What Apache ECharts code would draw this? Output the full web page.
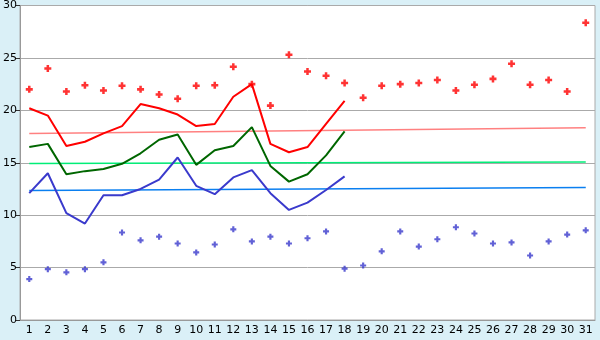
<!DOCTYPE html>
<html><head><meta charset="utf-8">
<script src="https://cdn.jsdelivr.net/npm/echarts@6/dist/echarts.min.js"></script>
<style>html,body{margin:0;padding:0;background:#daf0f7}#c{width:600px;height:340px}</style>
</head><body><div id="c"></div>
<script>
const days = Array.from({length:31},(_,i)=>String(i+1));
const redLine = [20.2,19.5,16.6,17.0,17.8,18.5,20.6,20.2,19.6,18.5,18.7,21.3,22.5,16.8,16.0,16.5,18.7,20.9];
const greenLine = [16.5,16.8,13.9,14.2,14.4,14.9,15.9,17.2,17.7,14.8,16.2,16.6,18.4,14.7,13.2,13.9,15.7,18.0];
const blueLine = [12.1,14.0,10.2,9.2,11.9,11.9,12.5,13.4,15.5,12.8,12.0,13.6,14.3,12.1,10.5,11.2,12.4,13.7];
const redPts = [22.0,24.0,21.8,22.4,21.9,22.35,22.0,21.5,21.1,22.35,22.4,24.15,22.5,20.45,25.3,23.7,23.3,22.6,21.2,22.35,22.5,22.6,22.9,21.9,22.45,23.0,24.45,22.45,22.9,21.8,28.35];
const bluePts = [3.9,4.85,4.55,4.85,5.5,8.35,7.6,7.95,7.3,6.45,7.2,8.65,7.5,7.95,7.3,7.8,8.45,4.9,5.2,6.55,8.45,7.0,7.7,8.85,8.25,7.3,7.4,6.15,7.5,8.15,8.55];
const redTrend = [17.78,18.35];
const greenTrend = [14.92,15.07];
const blueTrend = [12.35,12.64];
const yTicks = [0,5,10,15,20,25,30];

const plus = 'path://M1.6,0H3.4V1.6H5V3.4H3.4V5H1.6V3.4H0V1.6H1.6Z';
function trend(t){return [[days[0],t[0]],[days[days.length-1],t[1]]];}
const chart = echarts.init(document.getElementById('c'));
chart.setOption({
  backgroundColor:'#daf0f7',
  animation:false,
  grid:{left:20,right:5,top:5,bottom:20,show:true,backgroundColor:'#fff',borderColor:'#aaa',borderWidth:1},
  xAxis:{type:'category',data:days,boundaryGap:true,
    axisLine:{lineStyle:{color:'#999'}},
    axisTick:{alignWithLabel:true,length:4,lineStyle:{color:'#333'}},
    axisLabel:{color:'#000',fontFamily:'DejaVu Sans',fontSize:11,margin:5,interval:0},
    splitLine:{show:false}},
  yAxis:{type:'value',min:yTicks[0],max:yTicks[yTicks.length-1],interval:5,
    axisLine:{show:true,lineStyle:{color:'#999'}},
    axisTick:{show:true,length:4,lineStyle:{color:'#333'}},
    axisLabel:{color:'#000',fontFamily:'DejaVu Sans',fontSize:11,margin:3},
    splitLine:{lineStyle:{color:'#aaa',width:1}}},
  series:[
    {type:'line',data:trend(redTrend),symbol:'none',lineStyle:{color:'#ff8080',width:1.5},z:1},
    {type:'line',data:trend(greenTrend),symbol:'none',lineStyle:{color:'#00ee77',width:1.5},z:1},
    {type:'line',data:trend(blueTrend),symbol:'none',lineStyle:{color:'#0a7ff0',width:1.5},z:1},
    {type:'line',data:redLine,symbol:'none',lineStyle:{color:'#ff0000',width:2},z:3},
    {type:'line',data:greenLine,symbol:'none',lineStyle:{color:'#006600',width:2},z:3},
    {type:'line',data:blueLine,symbol:'none',lineStyle:{color:'#3a3acc',width:2},z:3},
    {type:'scatter',data:redPts,symbol:plus,symbolSize:7,itemStyle:{color:'#ff0000'},z:4},
    {type:'scatter',data:bluePts,symbol:plus,symbolSize:6,itemStyle:{color:'#3a3acc'},z:4}
  ]
});
</script></body></html>
